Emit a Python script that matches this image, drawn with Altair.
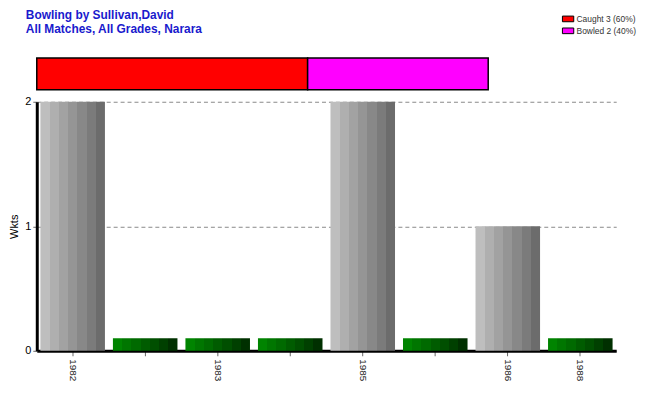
import altair as alt
import pandas as pd

# ---- data ----
year_labels = ["1982", "", "1983", "", "1985", "", "1986", "1988"]
wickets = [2, 0, 0, 0, 2, 0, 1, 0]
y_ticks = [0, 1, 2]
dismissal_types = ["Caught 3 (60%)", "Bowled 2 (40%)"]
dismissal_counts = [3, 2]
dismissal_colors = ["#ff0000", "#ff00ff"]

bars = pd.DataFrame({
    "idx": list(range(len(year_labels))),
    "label": year_labels,
    "w": wickets,
})
dis = pd.DataFrame({"type": dismissal_types, "n": dismissal_counts,
                    "order": [0, 1], "row": ["all", "all"]})

label_map = "[" + ",".join('"%s"' % s for s in year_labels) + "]"

gray_cols = ["#bebebe", "#afafaf", "#a2a2a2", "#959595", "#888888", "#7b7b7b", "#6c6c6c"]
green_cols = ["#008400", "#007600", "#006a00", "#005c00", "#004f00", "#004000", "#003000"]


def striped(cols):
    n = len(cols)
    stops = []
    for i, c in enumerate(cols):
        stops.append(alt.GradientStop(offset=i / n, color=c))
        stops.append(alt.GradientStop(offset=(i + 1) / n, color=c))
    return alt.LinearGradient(gradient="linear", stops=stops, x1=0, x2=1, y1=0, y2=0)


x_enc = alt.X(
    "idx:O",
    scale=alt.Scale(paddingInner=0.11, paddingOuter=0.05),
    axis=alt.Axis(
        title=None,
        labelExpr=label_map + "[datum.value]",
        labelAngle=90,
        labelFontSize=10,
        labelColor="#222",
        labelFont="Liberation Sans",
        labelAlign="left",
        labelBaseline="middle",
        labelPadding=3,
        domainColor="black",
        domainWidth=3,
        tickColor="#666",
        tickSize=5,
        grid=False,
    ),
)
y_enc = alt.Y(
    "h:Q",
    scale=alt.Scale(domain=[0, 2], nice=False),
    axis=alt.Axis(
        title="Wkts",
        titleFont="Liberation Sans",
        titleFontSize=11,
        titleFontWeight="normal",
        titleColor="black",
        titlePadding=5,
        values=y_ticks,
        labelExpr="'' + round(datum.value)",
        labelFontSize=11,
        labelFont="Liberation Sans",
        labelColor="black",
        labelPadding=2,
        labelOverlap=False,
        labelFlush=False,
        tickSize=4,
        tickColor="#666",
        domainColor="black",
        domainWidth=3,
        grid=True,
        gridColor="#888",
        gridDash=[4, 3],
        gridWidth=1,
    ),
)

base = alt.Chart(bars).transform_calculate(
    h="datum.w == 0 ? 0.1 : datum.w"
)

gray = base.transform_filter("datum.w > 0").mark_bar(color=striped(gray_cols))
green = base.transform_filter("datum.w == 0").mark_bar(color=striped(green_cols))
main = alt.layer(gray, green).encode(x=x_enc, y=y_enc).properties(width=584, height=251)

top = alt.Chart(dis).mark_bar(stroke="black", strokeWidth=1.5).encode(
    x=alt.X("n:Q", stack="zero", scale=alt.Scale(domain=[0, 5]), axis=None),
    y=alt.Y("row:N", axis=None, scale=alt.Scale(paddingInner=0, paddingOuter=0)),
    order=alt.Order("order:Q"),
    color=alt.Color(
        "type:N",
        scale=alt.Scale(domain=dismissal_types, range=dismissal_colors),
        legend=alt.Legend(
            title=None,
            orient="none",
            legendX=529,
            legendY=-46,
            padding=0,
            symbolType="M-1,-0.5H1V0.5H-1Z",
            symbolSize=130,
            symbolStrokeColor="black",
            symbolStrokeWidth=1,
            symbolOpacity=1,
            labelFontSize=8.5,
            labelFont="Liberation Sans",
            labelColor="#333",
            rowPadding=0,
            labelOffset=2,
        ),
    ),
).properties(width=455, height=32)

chart = alt.vconcat(top, main, spacing=5).properties(
    title=alt.TitleParams(
        text="Bowling by Sullivan,David",
        subtitle="All Matches, All Grades, Narara",
        font="Liberation Sans",
        fontSize=12,
        fontWeight="bold",
        color="#1a1acd",
        subtitleFont="Liberation Sans",
        subtitleFontSize=12,
        subtitleFontWeight="bold",
        subtitleColor="#1a1acd",
        subtitlePadding=2,
        anchor="start",
        frame="group",
        dx=-11,
        offset=-24,
    ),
    padding={"left": 0, "top": 0, "right": 5, "bottom": 5},
).configure_view(stroke=None)

chart.save("out.html", embed_options={"renderer": "svg", "actions": False})
